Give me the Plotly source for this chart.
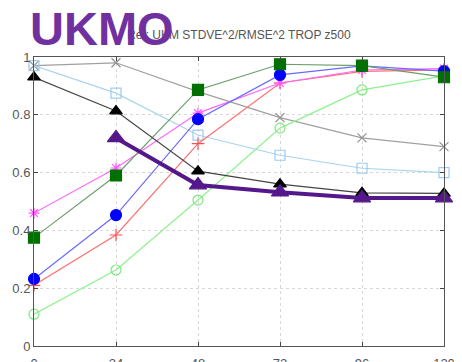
import plotly.graph_objects as go

lead = [0, 24, 48, 72, 96, 120]
gray_x = [0.97, 0.98, 0.88, 0.79, 0.72, 0.69]
lblue_sq = [0.97, 0.875, 0.73, 0.66, 0.615, 0.60]
black_tri = [0.93, 0.813, 0.605, 0.56, 0.53, 0.528]
purple_lead = [24, 48, 72, 96, 120]
purple_tri = [0.72, 0.557, 0.532, 0.512, 0.512]
green_sq = [0.375, 0.59, 0.886, 0.975, 0.97, 0.93]
blue_circ = [0.232, 0.453, 0.785, 0.938, 0.969, 0.951]
magenta_star = [0.46, 0.616, 0.806, 0.91, 0.955, 0.96]
red_plus = [0.21, 0.384, 0.70, 0.91, 0.95, 0.955]
lgreen_circ = [0.11, 0.263, 0.505, 0.754, 0.886, 0.935]

yticks = [0, 0.2, 0.4, 0.6, 0.8, 1]
xticks = [0, 24, 48, 72, 96, 120]

fig = go.Figure()

def add(x, y, lc, mc, sym, size, lw=1.2):
    fig.add_trace(go.Scatter(x=x, y=y, mode="lines+markers",
                             line=dict(color=lc, width=lw),
                             marker=dict(color=mc, symbol=sym, size=size,
                                         line=dict(color=mc, width=1.2)),
                             cliponaxis=False, showlegend=False))

add(lead, gray_x, "#a0a0a0", "#909090", "x-thin-open", 9)
add(lead, lblue_sq, "#a8d4f0", "#9ecbee", "square-open", 10)
add(lead, lgreen_circ, "#8ef08e", "#7ee87e", "circle-open", 10)
add(lead, red_plus, "#ff7070", "#ff5050", "cross-thin-open", 9)
add(lead, magenta_star, "#ff66ff", "#ff55ff", "asterisk-open", 9)
add(lead, blue_circ, "#6a6aff", "#0000ff", "circle", 11)
add(lead, green_sq, "#6a9e6a", "#007000", "square", 11)
add(lead, black_tri, "#444444", "#000000", "triangle-up", 11)
add(purple_lead, purple_tri, "#55188a", "#55188a", "triangle-up", 15, lw=4)

fig.update_layout(
    width=454, height=354,
    margin=dict(l=26, r=18, t=49, b=16),
    paper_bgcolor="white", plot_bgcolor="white",
    font=dict(family="Liberation Sans, Arial", size=13, color="#555555"),
    annotations=[
        dict(text="Ref: UKM STDVE^2/RMSE^2 TROP z500", x=0.5, y=1, xref="paper",
             yref="paper", yanchor="bottom", yshift=13, showarrow=False,
             font=dict(size=12, color="#555555")),
        dict(text="<b>UKMO</b>", xref="paper", yref="paper",
             x=-6 / 410, y=346 / 289,
             xanchor="left", yanchor="top", showarrow=False,
             font=dict(size=47, color="#7030a0", family="Liberation Sans, Arial")),
    ],
)
fig.update_xaxes(range=[0, 120], tickvals=xticks, ticks="inside", ticklen=4,
                 showline=True, linecolor="#555555", linewidth=1, mirror="ticks",
                 showgrid=True, gridcolor="#d8d8d8", griddash="dot", zeroline=False,
                 ticklabelstandoff=5, automargin=False,
                 tickfont=dict(size=13, color="#555555"))
fig.update_yaxes(range=[0, 1], tickvals=yticks, ticktext=["0", "0.2", "0.4", "0.6", "0.8", "1"],
                 ticks="inside", ticklen=4, automargin=False,
                 showline=True, linecolor="#555555", linewidth=1, mirror="ticks",
                 showgrid=True, gridcolor="#d8d8d8", griddash="dot", zeroline=False,
                 tickfont=dict(size=13, color="#555555"))

fig.write_html("out.html")
